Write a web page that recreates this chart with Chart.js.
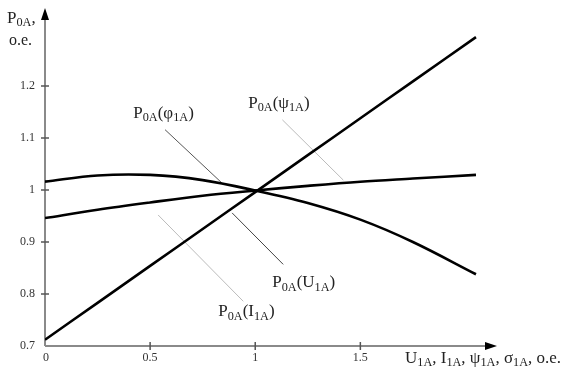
<!DOCTYPE html>
<html>
<head>
<meta charset="utf-8">
<script src="https://cdn.jsdelivr.net/npm/chart.js@4.4.1/dist/chart.umd.min.js"></script>
<style>
  html, body { margin: 0; padding: 0; background: #fff; }
  #wrap { width: 574px; height: 376px; position: relative; }
</style>
</head>
<body>
<div id="wrap"><canvas id="c" width="574" height="376"></canvas></div>
<script>
// Relative argument values (о.е.)
const xValues = [0, 0.25, 0.5, 0.75, 1, 1.25, 1.5, 1.75, 2.05];

// Relative active power versus each argument
const powerByVoltage = [0.712, 0.783, 0.854, 0.925, 0.996, 1.067, 1.138, 1.209, 1.294];
const powerByPsi     = [0.946, 0.962, 0.976, 0.989, 0.999, 1.008, 1.016, 1.022, 1.029];
const powerByPhi     = [1.016, 1.028, 1.029, 1.019, 0.999, 0.975, 0.943, 0.900, 0.838];

// Axis ticks
const xTicks = [0, 0.5, 1, 1.5];
const xTickLabels = ['0', '0.5', '1', '1.5'];
const yTicks = [0.7, 0.8, 0.9, 1.0, 1.1, 1.2];
const yTickLabels = ['0.7', '0.8', '0.9', '1', '1.1', '1.2'];

const FONT = '"Liberation Serif", "DejaVu Serif", serif';
const SUB = 0.72;

// Curve captions: text pieces (1 = subscript), anchor and leader line in data units
const captions = [
  { parts: [['P'], ['0A', 1], ['(φ'], ['1A', 1], [')']], at: [0.42, 1.139],
    lead: [[0.571, 1.116], [0.848, 1.011]], leadColor: '#555' },
  { parts: [['P'], ['0A', 1], ['(ψ'], ['1A', 1], [')']], at: [0.967, 1.158],
    lead: [[1.129, 1.135], [1.419, 1.019]], leadColor: '#bbb' },
  { parts: [['P'], ['0A', 1], ['(U'], ['1A', 1], [')']], at: [1.081, 0.813],
    lead: [[0.890, 0.956], [1.133, 0.857]], leadColor: '#444' },
  { parts: [['P'], ['0A', 1], ['(I'], ['1A', 1], [')']], at: [0.824, 0.757],
    lead: [[0.538, 0.952], [0.943, 0.786]], leadColor: '#bbb' }
];

function drawRich(ctx, parts, x, y, size) {
  let cx = x;
  ctx.textBaseline = 'alphabetic';
  ctx.textAlign = 'left';
  for (const [t, sub] of parts) {
    const s = sub ? size * SUB : size;
    ctx.font = s + 'px ' + FONT;
    ctx.fillText(t, cx, sub ? y + size * 0.2 : y);
    cx += ctx.measureText(t).width;
  }
  return cx;
}

const axesPlugin = {
  id: 'schemeAxes',
  beforeDatasetsDraw(chart) {
    const ctx = chart.ctx;
    const xs = chart.scales.x, ys = chart.scales.y;
    const x0 = xs.getPixelForValue(0);
    const y0 = ys.getPixelForValue(0.7);
    const xEnd = xs.right, yTop = ys.top;
    ctx.save();
    // axis lines
    ctx.strokeStyle = '#8a8a8a';
    ctx.lineWidth = 2;
    ctx.beginPath();
    ctx.moveTo(x0, y0); ctx.lineTo(xEnd - 8, y0);
    ctx.moveTo(x0, y0); ctx.lineTo(x0, yTop + 8);
    ctx.stroke();
    // arrowheads
    ctx.fillStyle = '#000';
    ctx.beginPath();
    ctx.moveTo(xEnd, y0); ctx.lineTo(xEnd - 12, y0 - 4); ctx.lineTo(xEnd - 12, y0 + 4); ctx.closePath();
    ctx.fill();
    ctx.beginPath();
    ctx.moveTo(x0, yTop); ctx.lineTo(x0 - 4, yTop + 12); ctx.lineTo(x0 + 4, yTop + 12); ctx.closePath();
    ctx.fill();
    // ticks
    ctx.strokeStyle = '#555';
    ctx.lineWidth = 1.5;
    ctx.beginPath();
    xTicks.forEach(v => {
      if (v === 0) return;
      const px = xs.getPixelForValue(v);
      ctx.moveTo(px, y0 - 4); ctx.lineTo(px, y0 + 4);
    });
    yTicks.forEach(v => {
      if (v === 0.7) return;
      const py = ys.getPixelForValue(v);
      ctx.moveTo(x0 - 4, py); ctx.lineTo(x0 + 4, py);
    });
    ctx.stroke();
    // tick labels
    ctx.fillStyle = '#333';
    ctx.font = '12px ' + FONT;
    ctx.textAlign = 'center';
    ctx.textBaseline = 'middle';
    xTicks.forEach((v, i) => {
      ctx.fillText(xTickLabels[i], xs.getPixelForValue(v) + (v === 0 ? 1 : 0), y0 + 12);
    });
    ctx.textAlign = 'right';
    yTicks.forEach((v, i) => {
      ctx.fillText(yTickLabels[i], x0 - 10, ys.getPixelForValue(v));
    });
    // axis titles
    ctx.fillStyle = '#222';
    drawRich(ctx, [['P'], ['0A', 1], [',']], 7, 23, 17);
    ctx.font = '16px ' + FONT;
    ctx.textAlign = 'left';
    ctx.fillText('о.е.', 9, 45);
    drawRich(ctx, [['U'], ['1A', 1], [', I'], ['1A', 1], [', ψ'], ['1A', 1], [', σ'], ['1A', 1], [', о.е.']],
      405, y0 + 17, 17);
    // leader lines and captions
    captions.forEach(c => {
      ctx.strokeStyle = c.leadColor;
      ctx.lineWidth = 1;
      ctx.beginPath();
      ctx.moveTo(xs.getPixelForValue(c.lead[0][0]), ys.getPixelForValue(c.lead[0][1]));
      ctx.lineTo(xs.getPixelForValue(c.lead[1][0]), ys.getPixelForValue(c.lead[1][1]));
      ctx.stroke();
      ctx.fillStyle = '#222';
      drawRich(ctx, c.parts, xs.getPixelForValue(c.at[0]), ys.getPixelForValue(c.at[1]), 17);
    });
    ctx.restore();
  }
};

const mk = (data) => ({
  data: xValues.map((x, i) => ({ x, y: data[i] })),
  borderColor: '#000',
  borderWidth: 2.6,
  pointRadius: 0,
  tension: 0.35,
  fill: false
});

new Chart(document.getElementById('c'), {
  type: 'line',
  data: { datasets: [mk(powerByVoltage), mk(powerByPsi), mk(powerByPhi)] },
  options: {
    responsive: false,
    animation: false,
    layout: { padding: { left: 45, right: 77, top: 8, bottom: 30 } },
    plugins: { legend: { display: false }, tooltip: { enabled: false } },
    scales: {
      x: { type: 'linear', min: 0, max: 2.15, display: false },
      y: { type: 'linear', min: 0.7, max: 1.35, display: false }
    }
  },
  plugins: [axesPlugin]
});
</script>
</body>
</html>
